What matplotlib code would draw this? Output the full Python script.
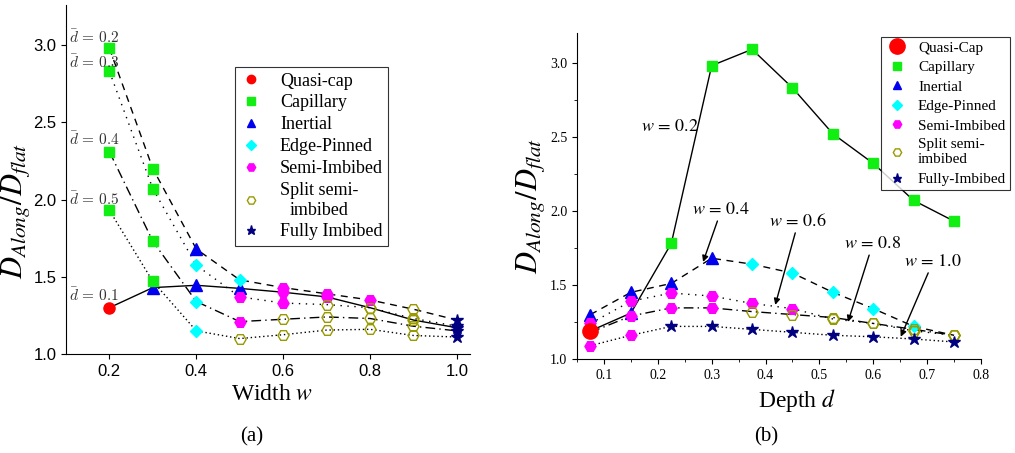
import matplotlib
matplotlib.use('Agg')
import matplotlib.pyplot as plt
from matplotlib.lines import Line2D
from matplotlib.ticker import MultipleLocator, FormatStrFormatter

plt.rcParams['font.family'] = ['Liberation Serif', 'DejaVu Serif']
plt.rcParams['mathtext.fontset'] = 'stix'

# regime styles
styles = {
    'QC': dict(marker='o', color='#ff0000', mfc='#ff0000', label='Quasi-cap'),
    'Cap': dict(marker='s', color='#11ee11', mfc='#11ee11', label='Capillary'),
    'I': dict(marker='^', color='#0000ee', mfc='#0000ee', label='Inertial'),
    'EP': dict(marker='D', color='#00ffff', mfc='#00ffff', label='Edge-Pinned'),
    'SI': dict(marker='H', color='#ff00ff', mfc='#ff00ff', label='Semi-Imbibed'),
    'SP': dict(marker='H', color='#999900', mfc='none', label='Split semi-\nimbibed'),
    'FI': dict(marker='*', color='#000080', mfc='#000080', label='Fully Imbibed'),
}
msizes = {'QC': 8, 'Cap': 7, 'I': 8.5, 'EP': 6.5, 'SI': 8, 'SP': 8, 'FI': 9}

# ---------- panel (a): vs width w, one curve per depth
width_w = [0.2, 0.3, 0.4, 0.5, 0.6, 0.7, 0.8, 0.9, 1.0]
a_d01 = [1.30, 1.43, 1.445, 1.425, 1.40, 1.37, 1.30, 1.22, 1.17]
a_d02 = [2.98, 2.20, 1.68, 1.48, 1.43, 1.39, 1.35, 1.29, 1.22]
a_d03 = [2.83, 2.07, 1.575, 1.37, 1.33, 1.32, 1.30, 1.23, 1.18]
a_d04 = [2.31, 1.73, 1.34, 1.21, 1.225, 1.24, 1.23, 1.18, 1.15]
a_d05 = [1.93, 1.47, 1.15, 1.10, 1.125, 1.155, 1.16, 1.12, 1.11]
a_t01 = ['QC', 'I', 'I', 'I', 'SI', 'SI', 'SP', 'SP', 'FI']
a_t02 = ['Cap', 'Cap', 'I', 'EP', 'SI', 'SI', 'SI', 'SP', 'FI']
a_t03 = ['Cap', 'Cap', 'EP', 'SI', 'SI', 'SP', 'SP', 'SP', 'FI']
a_t04 = ['Cap', 'Cap', 'EP', 'SI', 'SP', 'SP', 'SP', 'SP', 'FI']
a_t05 = ['Cap', 'Cap', 'EP', 'SP', 'SP', 'SP', 'SP', 'SP', 'FI']
a_labels = [r'$\bar{d}\,=\,0.1$', r'$\bar{d}\,=\,0.2$', r'$\bar{d}\,=\,0.3$',
            r'$\bar{d}\,=\,0.4$', r'$\bar{d}\,=\,0.5$']
a_label_y = [1.38, 3.05, 2.89, 2.39, 2.00]

# ---------- panel (b): vs depth d, one curve per width
depth_d = [0.075, 0.15, 0.225, 0.3, 0.375, 0.45, 0.525, 0.6, 0.675, 0.75]
b_w02 = [1.19, 1.31, 1.78, 2.98, 3.09, 2.83, 2.52, 2.32, 2.07, 1.93]
b_w04 = [1.30, 1.45, 1.51, 1.68, 1.64, 1.58, 1.45, 1.34, 1.22, 1.16]
b_w06 = [1.24, 1.39, 1.445, 1.425, 1.375, 1.34, 1.27, 1.24, 1.19, 1.16]
b_w08 = [1.18, 1.29, 1.345, 1.345, 1.32, 1.30, 1.28, 1.24, 1.20, 1.16]
b_w10 = [1.09, 1.16, 1.22, 1.22, 1.20, 1.18, 1.16, 1.15, 1.135, 1.115]
b_t02 = ['QC', 'I'] + ['Cap'] * 8
b_t04 = ['I'] * 4 + ['EP'] * 5 + ['SP']
b_t06 = ['SI'] * 6 + ['SP'] * 4
b_t08 = ['SI'] * 4 + ['SP'] * 6
b_t10 = ['SI'] * 2 + ['FI'] * 8

linestyles = ['-', (0, (5, 4)), (0, (1, 4)), (0, (7, 3, 1, 3)), (0, (1, 2))]

fig = plt.figure(figsize=(10.15, 4.53), dpi=100)
ax1 = fig.add_axes([0.065, 0.2185, 0.398, 0.7705])
ax2 = fig.add_axes([0.5685, 0.2075, 0.398, 0.7196])


def draw(ax, xs, curves, types):
    for ys, ls in zip(curves, linestyles):
        ax.plot(xs, ys, color='k', lw=1.0, ls=ls, zorder=2)
    for ys, ts in zip(curves, types):
        for x, y, t in zip(xs, ys, ts):
            st = styles[t]
            ax.plot(x, y, ls='none', marker=st['marker'], color=st['color'],
                    mfc=st['mfc'], mec=st['color'], ms=msizes[t], mew=1.0, zorder=3)


draw(ax1, width_w, [a_d01, a_d02, a_d03, a_d04, a_d05],
     [a_t01, a_t02, a_t03, a_t04, a_t05])
for lab, y in zip(a_labels, a_label_y):
    ax1.text(0.107, y, lab, fontsize=11, ha='left', va='center', color='#333333',
             math_fontfamily='cm')

ax1.set_xlim(0.1, 1.03)
ax1.set_ylim(1.0, 3.26)
ax1.set_xticks([0.2, 0.4, 0.6, 0.8, 1.0])
ax1.set_yticks([1.0, 1.5, 2.0, 2.5, 3.0])
ax1.xaxis.set_major_formatter(FormatStrFormatter('%.1f'))
ax1.yaxis.set_major_formatter(FormatStrFormatter('%.1f'))
for lab in ax1.get_xticklabels() + ax1.get_yticklabels():
    lab.set_family(['Liberation Sans Narrow', 'Liberation Sans', 'DejaVu Sans'])
    lab.set_fontsize(12)
ax1.set_xlabel(r'Width $w$', fontsize=17)
ax1.xaxis.set_label_coords(0.51, -0.085)
ax1.set_ylabel(r'$D_{Along}/D_{flat}$', fontsize=22)
ax1.yaxis.set_label_coords(-0.085, 0.41)

h1 = []
for k in ['QC', 'Cap', 'I', 'EP', 'SI', 'SP', 'FI']:
    st = styles[k]
    h1.append(Line2D([], [], ls='none', marker=st['marker'], color=st['color'],
                     mfc=st['mfc'], mec=st['color'], ms=msizes[k] * 0.75,
                     label=st['label']))
leg1 = ax1.legend(handles=h1, loc='upper left', bbox_to_anchor=(0.418, 0.822),
                  fontsize=13, frameon=True, fancybox=False, edgecolor='k',
                  handlelength=1.2, handletextpad=1.0, labelspacing=0.27,
                  borderpad=0.3, borderaxespad=0)
leg1.get_frame().set_linewidth(0.8)
for t in leg1.get_texts():
    t.set_multialignment('center')

draw(ax2, depth_d, [b_w02, b_w04, b_w06, b_w08, b_w10],
     [b_t02, b_t04, b_t06, b_t08, b_t10])
# bigger quasi-cap marker
ax2.plot(depth_d[0], b_w02[0], ls='none', marker='o', color='#ff0000', ms=11, zorder=3)

ax2.text(0.223, 2.57, r'$w\,=\,0.2$', fontsize=13, ha='center', va='center')
ann = [(r'$w\,=\,0.4$', (0.318, 1.95), (0.284, 1.655)),
       (r'$w\,=\,0.6$', (0.461, 1.87), (0.418, 1.365)),
       (r'$w\,=\,0.8$', (0.599, 1.72), (0.553, 1.25)),
       (r'$w\,=\,1.0$', (0.711, 1.60), (0.651, 1.15))]
for txt, xyt, xy in ann:
    ax2.annotate(txt, xy=xy, xytext=xyt, fontsize=13, ha='center', va='bottom',
                 arrowprops=dict(arrowstyle='-|>', color='k', lw=1.0,
                                 mutation_scale=9, shrinkA=0, shrinkB=0))

ax2.set_xlim(0.05, 0.8)
ax2.set_ylim(1.0, 3.2)
ax2.xaxis.set_major_locator(MultipleLocator(0.1))
ax2.xaxis.set_minor_locator(MultipleLocator(0.05))
ax2.yaxis.set_major_locator(MultipleLocator(0.5))
ax2.yaxis.set_minor_locator(MultipleLocator(0.25))
ax2.set_xticks([0.1, 0.2, 0.3, 0.4, 0.5, 0.6, 0.7, 0.8])
ax2.tick_params(labelsize=10)
ax2.set_xlabel(r'Depth $d$', fontsize=17)
ax2.xaxis.set_label_coords(0.545, -0.085)
ax2.set_ylabel(r'$D_{Along}/D_{flat}$', fontsize=22)
ax2.yaxis.set_label_coords(-0.075, 0.47)

h2 = []
for k, lab in zip(['QC', 'Cap', 'I', 'EP', 'SI', 'SP', 'FI'],
                  ['Quasi-Cap', 'Capillary', 'Inertial', 'Edge-Pinned',
                   'Semi-Imbibed', 'Split semi-\nimbibed', 'Fully-Imbibed']):
    st = styles[k]
    ms = 11 if k == 'QC' else msizes[k] * 0.75
    h2.append(Line2D([], [], ls='none', marker=st['marker'], color=st['color'],
                     mfc=st['mfc'], mec=st['color'], ms=ms, label=lab))
leg2 = fig.legend(handles=h2, loc='upper right', bbox_to_anchor=(0.995, 0.918),
                  fontsize=11, frameon=True, fancybox=False, edgecolor='k',
                  handlelength=1.6, handletextpad=0.6, labelspacing=0.38,
                  borderpad=0.25, borderaxespad=0)
leg2.get_frame().set_linewidth(0.8)

for ax in (ax1, ax2):
    ax.spines['top'].set_visible(False)
    ax.spines['right'].set_visible(False)
    ax.tick_params(direction='out', which='both')

fig.text(0.248, 0.035, '(a)', fontsize=15, ha='center', va='center')
fig.text(0.755, 0.035, '(b)', fontsize=15, ha='center', va='center')

fig.savefig('out.png', dpi=100)
